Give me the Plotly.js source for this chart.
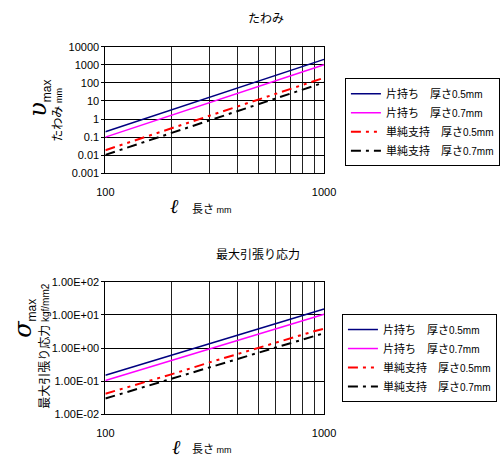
<!DOCTYPE html>
<html>
<head>
<meta charset="utf-8">
<script src="https://cdn.plot.ly/plotly-3.0.1.min.js"></script>
<style>html,body{margin:0;padding:0;background:#fff;}</style>
</head>
<body>
<div id="chart" style="width:500px;height:468px;"></div>
<script>
// lengths (mm)
const lengths = [100, 200, 300, 400, 500, 600, 700, 800, 900, 1000];
// deflection (mm)
const deflCant05 = [0.2, 3.2, 16, 51, 125, 260, 480, 820, 1310, 2000];
const deflCant07 = [0.1, 1.6, 8.1, 26, 63, 130, 240, 410, 660, 1000];
const deflSimp05 = [0.019, 0.30, 1.5, 4.9, 12, 25, 46, 78, 125, 190];
const deflSimp07 = [0.0105, 0.17, 0.85, 2.7, 6.6, 13.6, 25, 43, 69, 105];
// max tensile stress (kgf/mm2)
const strCant05 = [0.15, 0.6, 1.35, 2.4, 3.75, 5.4, 7.35, 9.6, 12.2, 15];
const strCant07 = [0.105, 0.42, 0.95, 1.68, 2.6, 3.8, 5.1, 6.7, 8.5, 10.5];
const strSimp05 = [0.042, 0.16, 0.37, 0.65, 1.0, 1.45, 2.0, 2.6, 3.2, 3.8];
const strSimp07 = [0.03, 0.115, 0.26, 0.46, 0.72, 1.03, 1.4, 1.8, 2.3, 2.8];

const seriesLabels = ['片持ち', '片持ち', '単純支持', '単純支持'];
const thickLabels = ['0.5mm', '0.7mm', '0.5mm', '0.7mm'];

const xTickVals = [100, 1000];
const xTickText = ['100', '1000'];
const xMinorVals = [200, 300, 400, 500, 600, 700, 800, 900];
const yTopTickVals = [0.001, 0.01, 0.1, 1, 10, 100, 1000, 10000];
const yTopTickText = ['0.001', '0.01', '0.1', '1', '10', '100', '1000', '10000'];
const yBotTickVals = [0.01, 0.1, 1, 10, 100];
const yBotTickText = ['1.00E-02', '1.00E-01', '1.00E+00', '1.00E+01', '1.00E+02'];

const styles = [
  {color: '#000080', width: 1.5, dash: 'solid'},
  {color: '#FF00FF', width: 1.5, dash: 'solid'},
  {color: '#FF0000', width: 2, dash: '10px,5px,3px,5px,3px,5px'},
  {color: '#000000', width: 2, dash: '10px,5px,3px,5px'}
];

const topData = [deflCant05, deflCant07, deflSimp05, deflSimp07];
const botData = [strCant05, strCant07, strSimp05, strSimp07];

function legendName(i) {
  return seriesLabels[i] + '　厚さ<span style="font-family:Liberation Sans;font-size:10px">' + thickLabels[i] + '</span>';
}

const traces = [];
topData.forEach((ys, i) => traces.push({
  x: lengths, y: ys, xaxis: 'x', yaxis: 'y', type: 'scatter', mode: 'lines',
  name: legendName(i), line: styles[i], legend: 'legend'
}));
botData.forEach((ys, i) => traces.push({
  x: lengths, y: ys, xaxis: 'x2', yaxis: 'y2', type: 'scatter', mode: 'lines',
  name: legendName(i), line: styles[i], legend: 'legend2'
}));

const tickFont = {family: 'Liberation Sans, Arial, sans-serif', size: 11, color: '#000'};

function xAxis(anchor) {
  return {
    type: 'log', range: [2, 3], domain: [0.212, 0.652], anchor: anchor,
    tickmode: 'array', tickvals: xTickVals, ticktext: xTickText, ticks: '',
    showgrid: true, gridcolor: '#000', gridwidth: 1,
    minor: {tickmode: 'array', tickvals: xMinorVals, showgrid: true, gridcolor: '#222', gridwidth: 1, ticks: ''},
    showline: true, linecolor: '#000', linewidth: 1, mirror: true,
    zeroline: false, tickfont: tickFont,
    ticklabelstandoff: 8
  };
}
function yAxis(domain, anchor, range, tv, tt) {
  return {
    type: 'log', range: range, domain: domain, anchor: anchor,
    tickmode: 'array', tickvals: tv, ticktext: tt, ticks: 'outside', ticklen: 3, tickcolor: '#000',
    showgrid: true, gridcolor: '#000', gridwidth: 1,
    showline: true, linecolor: '#000', linewidth: 1, mirror: true,
    zeroline: false, tickfont: tickFont
  };
}

const jp = 'Noto Sans CJK JP, sans-serif';
const serif = 'DejaVu Serif, serif';

const legendBase = {
  xanchor: 'left', yanchor: 'top', bordercolor: '#000', borderwidth: 1,
  bgcolor: '#fff', font: {family: jp, size: 11, color: '#000'},
  itemwidth: 30, tracegroupgap: 0, itemclick: false
};

function ann(text, px, py, opts) {
  return Object.assign({
    text: text, xref: 'paper', yref: 'paper', x: px / 500, y: 1 - py / 468,
    xanchor: 'center', yanchor: 'middle', showarrow: false,
    font: {family: jp, size: 12, color: '#000'}
  }, opts || {});
}

const layout = {
  width: 500, height: 468, autosize: false,
  margin: {l: 0, r: 0, t: 0, b: 0},
  paper_bgcolor: '#fff', plot_bgcolor: '#fff',
  showlegend: true,
  xaxis: xAxis('y'),
  yaxis: yAxis([0.6297, 0.9002], 'x', [-3, 4], yTopTickVals, yTopTickText),
  xaxis2: xAxis('y2'),
  yaxis2: yAxis([0.1147, 0.398], 'x2', [-2, 2], yBotTickVals, yBotTickText),
  legend: Object.assign({x: 0.694, y: 0.8327}, legendBase),
  legend2: Object.assign({x: 0.688, y: 0.329}, legendBase),
  annotations: [
    ann('たわみ', 268, 18),
    ann('最大引張り応力', 260, 254),
    // top y title
    ann('<i>υ</i><sub><span style="font-family:Liberation Sans;font-size:12px">max</span></sub>', 39, 98,
        {textangle: -90, font: {family: serif, size: 24, color: '#000'}}),
    ann('たわみ <span style="font-family:Liberation Sans;font-size:9px">mm</span>', 56, 115,
        {textangle: -90}),
    // bottom y title
    ann('<i>σ</i><sub><span style="font-family:Liberation Sans;font-size:12px">max</span></sub>', 24, 318,
        {textangle: -90, font: {family: serif, size: 24, color: '#000'}}),
    ann('最大引張り応力 <span style="font-family:Liberation Sans;font-size:10px">kgf/mm2</span>', 43, 346,
        {textangle: -90}),
    // x titles
    ann('<i>ℓ</i>', 176, 206, {font: {family: serif, size: 20, color: '#000'}}),
    ann('長さ <span style="font-family:Liberation Sans;font-size:9px">mm</span>', 191, 208,
        {xanchor: 'left', font: {family: jp, size: 11, color: '#000'}}),
    ann('<i>ℓ</i>', 178, 447, {font: {family: serif, size: 20, color: '#000'}}),
    ann('長さ <span style="font-family:Liberation Sans;font-size:9px">mm</span>', 191, 448,
        {xanchor: 'left', font: {family: jp, size: 11, color: '#000'}})
  ]
};

Plotly.newPlot('chart', traces, layout, {staticPlot: true, displayModeBar: false});
</script>
</body>
</html>
